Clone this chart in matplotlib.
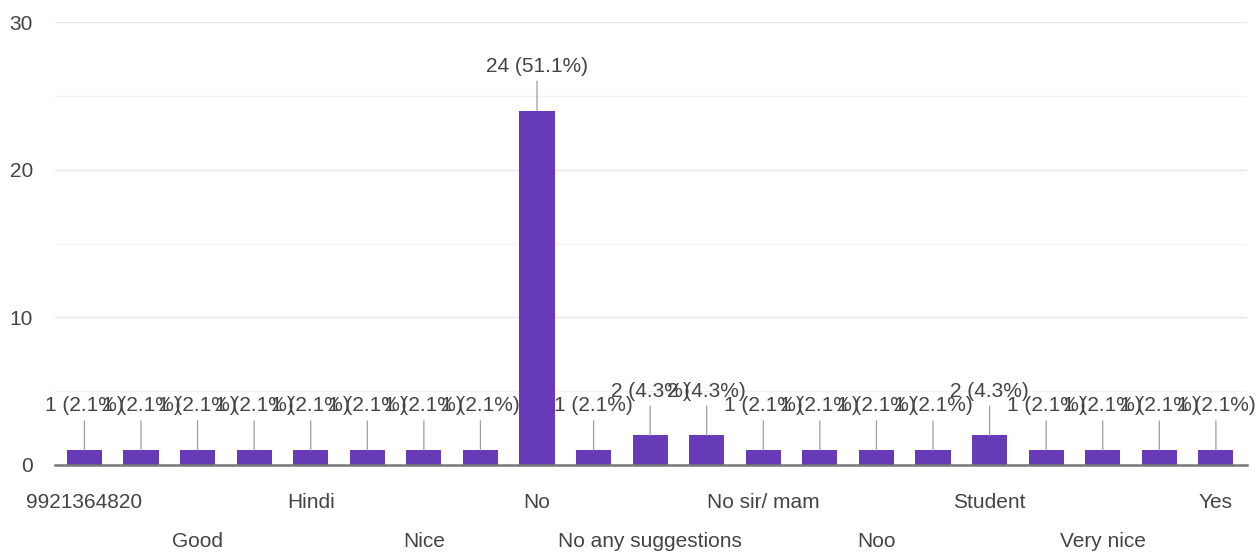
import matplotlib
matplotlib.use("Agg")
import matplotlib.pyplot as plt
from matplotlib.ticker import MultipleLocator

# ---- data ----
categories = ["9921364820", "", "Good", "", "Hindi", "", "Nice", "", "No", "",
              "No any suggestions", "", "No sir/ mam", "", "Noo", "", "Student", "",
              "Very nice", "", "Yes"]
counts = [1, 1, 1, 1, 1, 1, 1, 1, 24, 1, 2, 2, 1, 1, 1, 1, 2, 1, 1, 1, 1]
total = sum(counts)
y_ticks = [0, 10, 20, 30]

BAR = "#673ab7"
TXT = "#444444"

plt.rcParams["font.family"] = ["Liberation Sans", "DejaVu Sans"]

fig = plt.figure(figsize=(12.59, 5.56), dpi=100)
ax = fig.add_axes([55 / 1259, 1 - 465 / 556, (1247 - 55) / 1259, (465 - 22) / 556])

x = list(range(len(counts)))
ax.bar(x, counts, width=0.62, color=BAR, zorder=3)

ax.set_xlim(-0.52, len(counts) - 1 + 0.55)
ax.set_ylim(0, 30)
ax.set_yticks(y_ticks)
ax.yaxis.set_minor_locator(MultipleLocator(5))
ax.grid(axis="y", which="major", color="#e6e6e6", lw=1.0, zorder=0)
ax.grid(axis="y", which="minor", color="#f3f3f3", lw=1.0, zorder=0)
ax.tick_params(axis="y", length=0, pad=16, labelsize=15, labelcolor=TXT)
ax.tick_params(axis="y", which="minor", length=0)
ax.set_xticks([])

for s in ["top", "right", "left"]:
    ax.spines[s].set_visible(False)
ax.spines["bottom"].set_color("#777777")
ax.spines["bottom"].set_linewidth(1.8)
ax.spines["bottom"].set_zorder(4)

# category labels, alternating rows
tr = ax.get_xaxis_transform()
k = 0
for i, name in enumerate(categories):
    if not name:
        continue
    yrow = -0.097 if k % 2 == 0 else -0.185
    ax.text(i, yrow, name, transform=tr, ha="center", va="baseline",
            fontsize=15, color=TXT, clip_on=False)
    k += 1

# value labels with leader lines
for i, v in enumerate(counts):
    ax.annotate(f"{v} ({v / total * 100:.1f}%)", xy=(i, v), xytext=(0, 32),
                textcoords="offset points", ha="center", va="center",
                fontsize=15, color=TXT, zorder=5,
                arrowprops=dict(arrowstyle="-", color="#9e9e9e", lw=0.9,
                                shrinkA=2, shrinkB=0))

fig.savefig("out.png", dpi=100, facecolor="white")
